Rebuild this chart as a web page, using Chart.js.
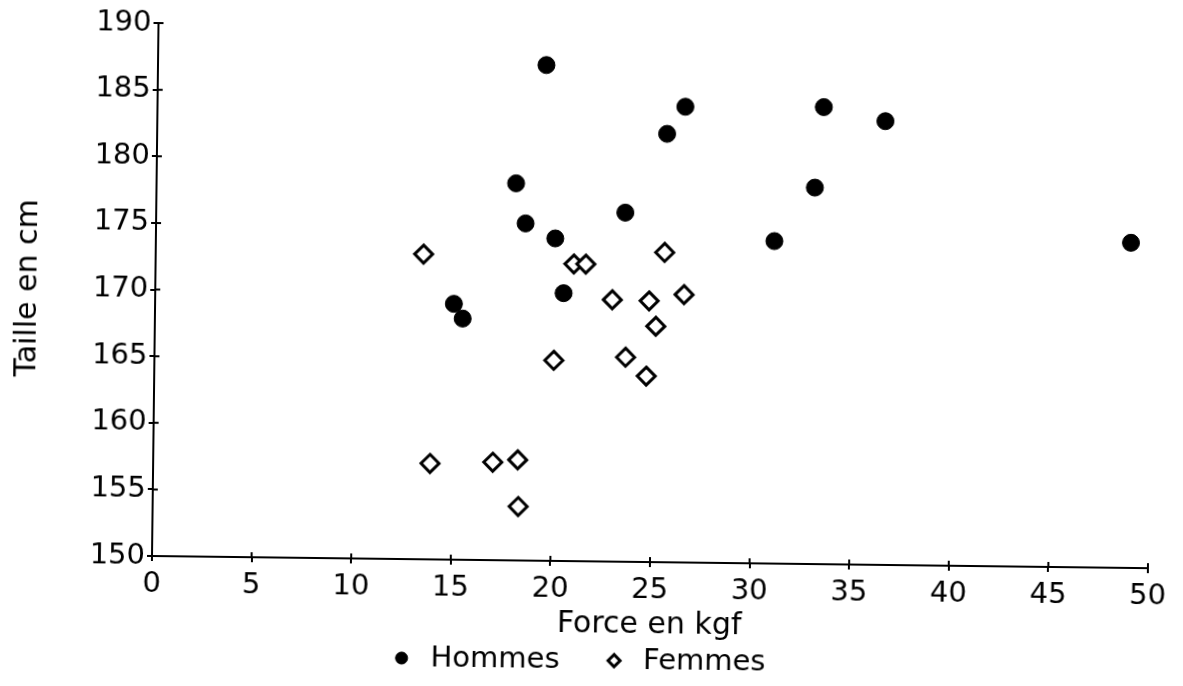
<!DOCTYPE html>
<html>
<head>
<meta charset="utf-8">
<script src="https://cdn.jsdelivr.net/npm/chart.js@4.4.1/dist/chart.umd.min.js"></script>
<style>
  html, body { margin: 0; padding: 0; background: #fff; overflow: hidden; }
  /* the scanned original sits slightly tilted */
  #chart { transform: rotate(0.7deg); transform-origin: 152px 556px; }
</style>
</head>
<body>
<canvas id="chart" width="1183" height="686"></canvas>
<script>
// Force (kgf) and height (cm)
const hommesForce = [19.5, 26.5, 25.6, 33.45, 36.55, 18.05, 33.05, 23.55, 18.55, 20.05, 31.05, 48.95, 20.5, 15.0, 15.45];
const hommesTaille = [187.2, 184.2, 182.15, 184.3, 183.3, 178.3, 178.25, 176.2, 175.3, 174.2, 174.2, 174.4, 170.1, 169.2, 168.1];

const femmesForce = [13.45, 21.0, 21.6, 25.55, 22.95, 24.8, 26.55, 25.15, 20.05, 23.65, 24.7, 13.9, 17.05, 18.3, 18.35];
const femmesTaille = [172.9, 172.3, 172.3, 173.25, 169.65, 169.6, 170.1, 167.7, 165.05, 165.35, 163.95, 157.2, 157.35, 157.55, 154.05];

const xTicks = [0, 5, 10, 15, 20, 25, 30, 35, 40, 45, 50];
const yTicks = [150, 155, 160, 165, 170, 175, 180, 185, 190];

const toPoints = (xs, ys) => xs.map((x, i) => ({ x: x, y: ys[i] }));

const tickFont = { family: 'DejaVu Sans', size: 29 };
const titleFont = { family: 'DejaVu Sans', size: 30 };

// small tick marks that also cross into the plot, like the plotter drew them
const innerTicks = {
  id: 'innerTicks',
  afterDraw(chart) {
    const ctx = chart.ctx;
    const xs = chart.scales.x, ys = chart.scales.y;
    const area = chart.chartArea;
    ctx.save();
    ctx.strokeStyle = '#000';
    ctx.lineWidth = 2;
    ctx.beginPath();
    xTicks.forEach(v => {
      const px = xs.getPixelForValue(v);
      ctx.moveTo(px, area.bottom);
      ctx.lineTo(px, area.bottom - 5);
    });
    yTicks.forEach(v => {
      const py = ys.getPixelForValue(v);
      ctx.moveTo(area.left, py);
      ctx.lineTo(area.left + 5, py);
    });
    ctx.stroke();
    ctx.restore();
  }
};

new Chart(document.getElementById('chart'), {
  type: 'scatter',
  data: {
    datasets: [
      {
        label: 'Hommes',
        data: toPoints(hommesForce, hommesTaille),
        pointStyle: 'circle',
        pointRadius: 8.5,
        backgroundColor: '#000',
        borderColor: '#000',
        borderWidth: 1
      },
      {
        label: 'Femmes',
        data: toPoints(femmesForce, femmesTaille),
        pointStyle: 'rectRot',
        pointRadius: 9,
        backgroundColor: '#fff',
        borderColor: '#000',
        borderWidth: 3
      }
    ]
  },
  options: {
    responsive: false,
    animation: false,
    layout: { padding: { top: 23, right: 35, left: 7, bottom: 6.5 } },
    plugins: {
      legend: {
        position: 'bottom',
        labels: {
          usePointStyle: true,
          boxWidth: 29,
          boxHeight: 8.5,
          padding: 40,
          color: '#000',
          font: tickFont
        }
      },
      tooltip: { enabled: false }
    },
    scales: {
      x: {
        type: 'linear',
        min: 0,
        max: 50,
        afterBuildTicks: s => { s.ticks = xTicks.map(v => ({ value: v })); },
        afterFit: s => { s.height = 44.5; },
        ticks: { color: '#000', font: tickFont, padding: 6, maxRotation: 0 },
        grid: { drawOnChartArea: false, color: '#000', tickLength: 5, lineWidth: 2 },
        border: { color: '#000', width: 2 },
        title: { display: true, text: 'Force en kgf', color: '#000', font: titleFont, padding: { top: 0, bottom: -36.5 } }
      },
      y: {
        type: 'linear',
        min: 150,
        max: 190,
        afterBuildTicks: s => { s.ticks = yTicks.map(v => ({ value: v })); },
        afterFit: s => { s.width = 145; },
        ticks: { color: '#000', font: tickFont, padding: 2 },
        grid: { drawOnChartArea: false, color: '#000', tickLength: 5, lineWidth: 2 },
        border: { color: '#000', width: 2 },
        title: { display: true, text: 'Taille en cm', color: '#000', font: titleFont, padding: { top: 0, bottom: 0 } }
      }
    }
  },
  plugins: [innerTicks]
});
</script>
</body>
</html>
